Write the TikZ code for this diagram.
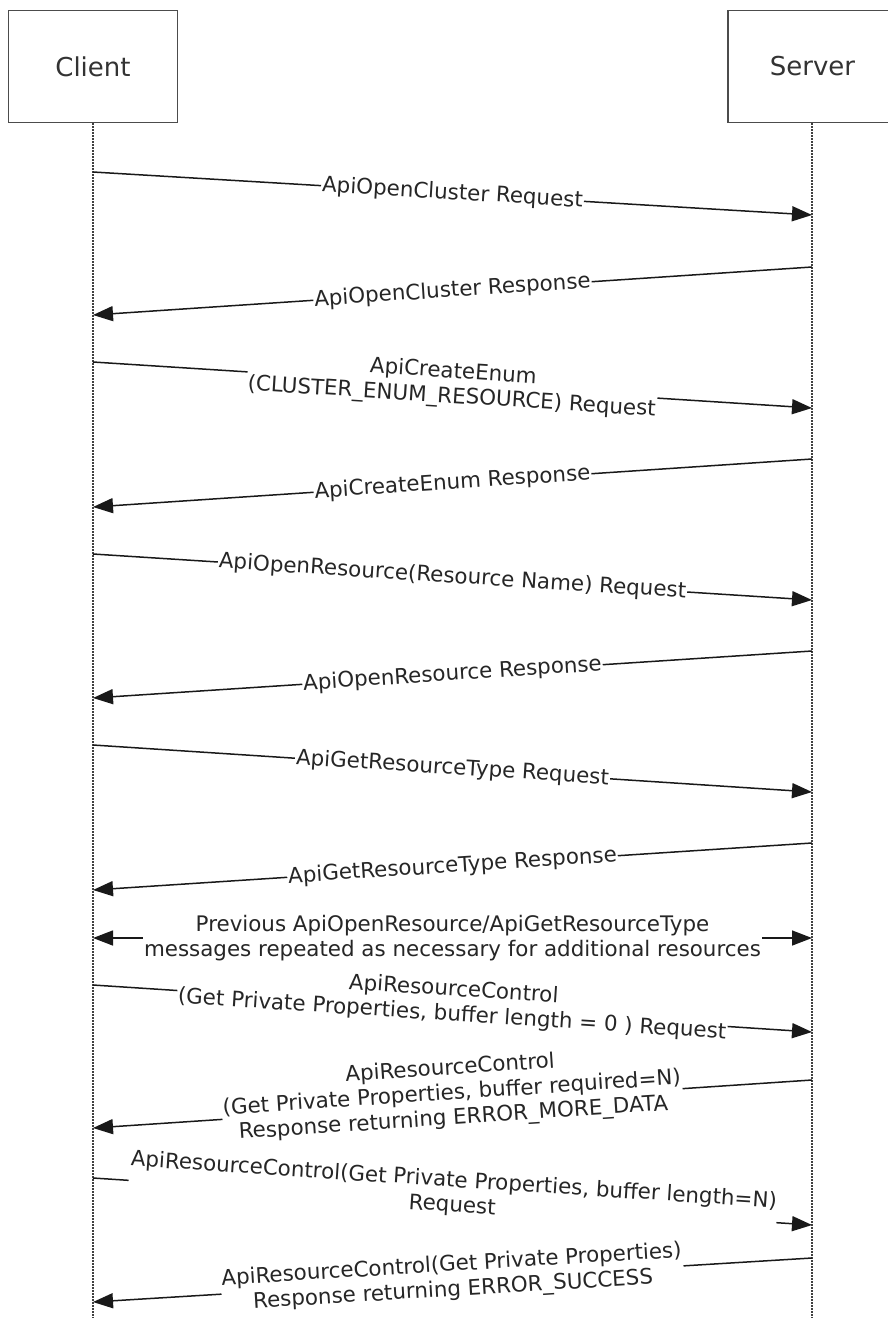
\documentclass[tikz,border=0pt]{standalone}
\usepackage{fontspec}
\setmainfont{DejaVu Sans}
\usetikzlibrary{arrows.meta}
\begin{document}
\begin{tikzpicture}[x=1pt,y=-1pt,
  actor/.style={draw=black!70,line width=1.8pt,minimum width=169pt,minimum height=112pt,inner sep=0pt,font=\fontsize{26}{30}\selectfont,text=black!80},
  lifeline/.style={draw=black!75,line width=1.5pt,dash pattern=on 1.5pt off 1.5pt},
  tip/.style={Triangle[length=20pt,width=15pt]},
  msg/.style={draw=black!90,line width=1.5pt,-{Triangle[length=20pt,width=15pt]}},
  lbl/.style={midway,sloped,fill=white,inner sep=1pt,align=center,font=\fontsize{21.4}{25}\selectfont,text=black!85}]
\useasboundingbox (0,0) rectangle (887,1318);
\node[actor] (client) at (93,66.5) {Client};
\node[actor] (server) at (812.5,66.5) {Server};
\coordinate (cbot) at (93,1318);
\coordinate (sbot) at (812,1318);
\draw[lifeline] (client.south -| cbot) -- (cbot);
\draw[lifeline] (server.south -| sbot) -- (sbot);
% endpoints
\coordinate (c1) at (93,172);  \coordinate (s1) at (812,215);
\coordinate (s2) at (812,267); \coordinate (c2) at (93,315);
\coordinate (c3) at (93,362);  \coordinate (s3) at (812,408);
\coordinate (s4) at (812,459); \coordinate (c4) at (93,507);
\coordinate (c5) at (93,554);  \coordinate (s5) at (812,600);
\coordinate (s6) at (812,651); \coordinate (c6) at (93,698);
\coordinate (c7) at (93,745);  \coordinate (s7) at (812,792);
\coordinate (s8) at (812,843); \coordinate (c8) at (93,890);
\coordinate (c9) at (93,938);  \coordinate (s9) at (812,938);
\coordinate (c10) at (93,985); \coordinate (s10) at (812,1032);
\coordinate (s11) at (812,1080); \coordinate (c11) at (93,1128);
\coordinate (c12) at (93,1178); \coordinate (s12) at (812,1225);
\coordinate (s13) at (812,1258); \coordinate (c13) at (93,1302);
\draw[msg] (c1) -- node[lbl] (l1) {ApiOpenCluster Request} (s1);
\draw[msg] (s2) -- node[lbl] (l2) {ApiOpenCluster Response} (c2);
\draw[msg] (c3) -- node[lbl] (l3) {ApiCreateEnum\\(CLUSTER\_ENUM\_RESOURCE) Request} (s3);
\draw[msg] (s4) -- node[lbl] (l4) {ApiCreateEnum Response} (c4);
\draw[msg] (c5) -- node[lbl] (l5) {ApiOpenResource(Resource Name) Request} (s5);
\draw[msg] (s6) -- node[lbl] (l6) {ApiOpenResource Response} (c6);
\draw[msg] (c7) -- node[lbl] (l7) {ApiGetResourceType Request} (s7);
\draw[msg] (s8) -- node[lbl] (l8) {ApiGetResourceType Response} (c8);
\draw[msg,{Triangle[length=20pt,width=15pt]}-{Triangle[length=20pt,width=15pt]}] (c9) -- node[lbl] (l9) {Previous ApiOpenResource/ApiGetResourceType\\messages repeated as necessary for additional resources} (s9);
\draw[msg] (c10) -- node[lbl,yshift=6pt] (l10) {ApiResourceControl\\(Get Private Properties, buffer length = 0 ) Request} (s10);
\draw[msg] (s11) -- node[lbl,yshift=10pt] (l11) {ApiResourceControl\\(Get Private Properties, buffer required=N)\\Response returning ERROR\_MORE\_DATA} (c11);
\draw[msg] (c12) -- node[lbl,yshift=8pt] (l12) {ApiResourceControl(Get Private Properties, buffer length=N)\\Request} (s12);
\draw[msg] (s13) -- node[lbl,yshift=2pt] (l13) {ApiResourceControl(Get Private Properties)\\Response returning ERROR\_SUCCESS} (c13);
\end{tikzpicture}
\end{document}
